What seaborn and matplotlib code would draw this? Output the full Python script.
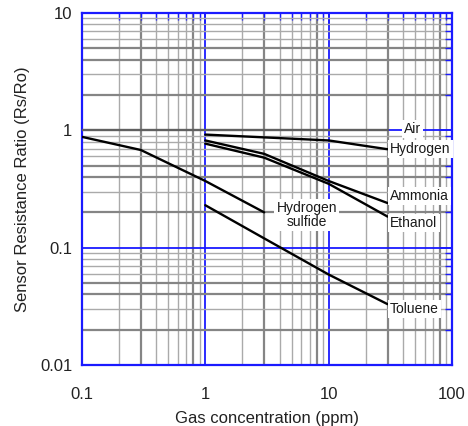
import numpy as np
import pandas as pd
import matplotlib
matplotlib.use("Agg")
import matplotlib.pyplot as plt
import seaborn as sns

# ---- data ----
air_conc = [0.1, 30]
air_ratio = [1.0, 1.0]
hydrogen_conc = [1, 10, 30]
hydrogen_ratio = [0.92, 0.82, 0.69]
ammonia_conc = [1, 3, 10, 30]
ammonia_ratio = [0.82, 0.63, 0.37, 0.24]
ethanol_conc = [1, 3, 10, 30]
ethanol_ratio = [0.77, 0.585, 0.35, 0.184]
h2s_conc = [0.1, 0.3, 1, 3]
h2s_ratio = [0.88, 0.68, 0.37, 0.2]
toluene_conc = [1, 3, 10, 30]
toluene_ratio = [0.23, 0.12, 0.059, 0.033]

x_ticks = [0.1, 1, 10, 100]
x_tick_labels = ["0.1", "1", "10", "100"]
y_ticks = [0.01, 0.1, 1, 10]
y_tick_labels = ["0.01", "0.1", "1", "10"]

series = {
    "Air": (air_conc, air_ratio),
    "Hydrogen": (hydrogen_conc, hydrogen_ratio),
    "Ammonia": (ammonia_conc, ammonia_ratio),
    "Ethanol": (ethanol_conc, ethanol_ratio),
    "Hydrogen\nsulfide": (h2s_conc, h2s_ratio),
    "Toluene": (toluene_conc, toluene_ratio),
}
rows = []
for name, (xs, ys) in series.items():
    for i, (xv, yv) in enumerate(zip(xs, ys)):
        rows.append({"gas": name, "conc": xv, "ratio": yv, "order": i})
df = pd.DataFrame(rows)

# label anchor (data coords)
labels = {
    "Air": (48, 1.03, "center"),
    "Hydrogen": (31.5, 0.69, "left"),
    "Ammonia": (31.5, 0.277, "left"),
    "Ethanol": (31.5, 0.162, "left"),
    "Toluene": (31.5, 0.030, "left"),
    "Hydrogen\nsulfide": (6.65, 0.19, "center"),
}

sns.set_theme(style="white")
plt.rcParams["font.family"] = ["Liberation Sans", "DejaVu Sans"]

fig = plt.figure(figsize=(4.68, 4.26), dpi=100)
ax = fig.add_axes([0.175, 0.1432, 0.791, 0.8263])

palette = {name: "black" for name in series}
palette["Air"] = "#606060"
sns.lineplot(data=df, x="conc", y="ratio", hue="gas", palette=palette,
             estimator=None, sort=False, units="gas", legend=False,
             linewidth=1.7, ax=ax, zorder=3)

ax.set_xscale("log")
ax.set_yscale("log")
ax.set_xlim(0.1, 100)
ax.set_ylim(0.01, 10)
ax.set_xticks(x_ticks, x_tick_labels)
ax.set_yticks(y_ticks, y_tick_labels)
ax.xaxis.set_minor_locator(matplotlib.ticker.LogLocator(base=10, subs=np.arange(2, 10)))
ax.yaxis.set_minor_locator(matplotlib.ticker.LogLocator(base=10, subs=np.arange(2, 10)))
ax.xaxis.set_minor_formatter(matplotlib.ticker.NullFormatter())
ax.yaxis.set_minor_formatter(matplotlib.ticker.NullFormatter())

ax.grid(True, which="major", color="#1a1aff", linewidth=1.3, zorder=1)
ax.grid(True, which="minor", color="#aaaaaa", linewidth=1.0, zorder=1)
ax.set_axisbelow(True)

fig.canvas.draw()


def style_minor(axis, thick_subs):
    for t in axis.get_minor_ticks():
        loc = t.get_loc()
        if loc is None or loc <= 0:
            continue
        mant = loc / 10 ** np.floor(np.log10(loc) + 1e-9)
        if any(abs(mant - s) < 0.05 for s in thick_subs):
            t.gridline.set_color("#858585")
            t.gridline.set_linewidth(1.6)
            t.tick1line.set_markeredgewidth(2.0)
            t.tick2line.set_markeredgewidth(2.0)


style_minor(ax.xaxis, [3, 8])
style_minor(ax.yaxis, [2, 4, 5])

ax.tick_params(which="both", direction="in", color="#1a1aff", top=True, right=True,
               labelcolor="#222222", labelsize=12)
ax.tick_params(which="major", length=9, width=1.3)
ax.tick_params(which="minor", length=5, width=1.0)
ax.tick_params(axis="x", which="major", pad=16)
ax.tick_params(axis="y", which="major", pad=7)

for sp in ax.spines.values():
    sp.set_color("#1a1aff")
    sp.set_linewidth(1.6)
    sp.set_visible(True)

ax.set_xlabel("Gas concentration (ppm)", fontsize=12, color="#222222", labelpad=6)
ax.set_ylabel("Sensor Resistance Ratio (Rs/Ro)", fontsize=12, color="#222222", labelpad=7)

for name, (lx, ly, ha) in labels.items():
    ax.text(lx, ly, name, ha=ha, va="center", fontsize=10, color="#1a1a1a",
            linespacing=1.05, zorder=5,
            bbox=dict(facecolor="white", edgecolor="none", pad=1.5))

fig.savefig("out.png", dpi=100)
